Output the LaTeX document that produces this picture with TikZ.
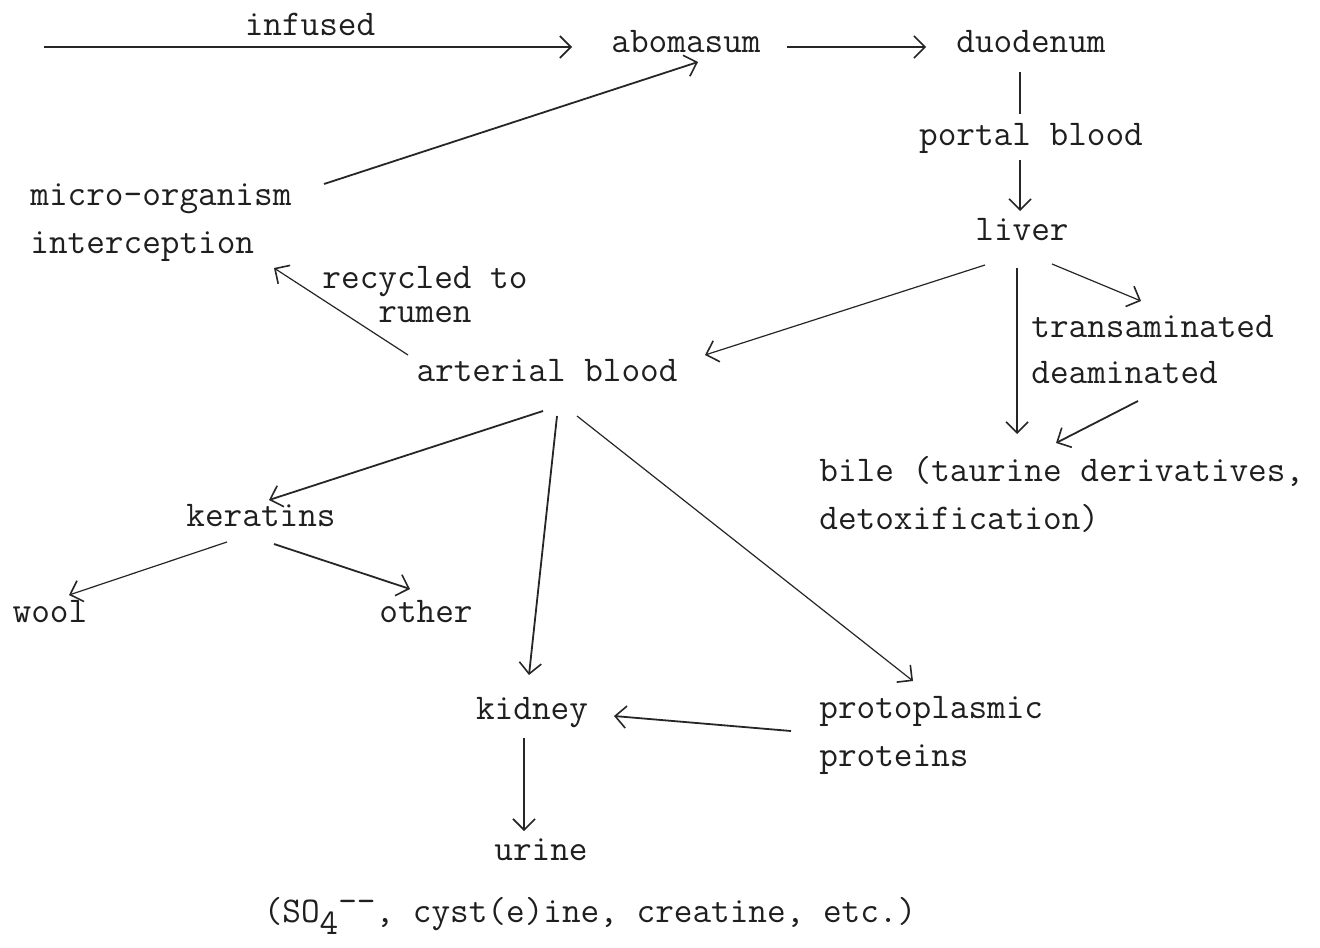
\documentclass[tikz,border=0pt]{standalone}
\usepackage{fontspec}
\usetikzlibrary{arrows.meta,calc}
\newcommand\tyfont{\ttfamily\fontsize{18.1}{24}\selectfont}
\begin{document}
\begin{tikzpicture}[x=0.5pt,y=-0.5pt,
  lbl/.style={inner sep=0pt, font=\tyfont, text=black!88},
  one/.style={lbl, text height=11pt, text depth=3pt},
  link/.style={draw=black!85, line width=0.9pt},
  arr/.style={link, -{Straight Barb[length=5.5pt,width=11pt,line width=0.8pt]}},
  thinarr/.style={arr, line width=0.6pt}]
\useasboundingbox[fill=white] (0,0) rectangle (1320,947);

% labels
\node[one] (infused) at (310,28) {infused};
\node[one] (abomasum) at (686,45) {abomasum};
\node[one] (duodenum) at (1031,45) {duodenum};
\node[one] (portal) at (1031,137) {portal blood};
\node[one] (liver) at (1022,232) {liver};
\node[lbl, align=left, anchor=west] (micro) at (30,223) {micro-organism\\interception};
\node[lbl, align=center, font={\ttfamily\fontsize{18.1}{17}\selectfont}] (recycled) at (425,295) {recycled to\\rumen};
\node[one] (arterial) at (547,373) {arterial blood};
\node[lbl, align=left, anchor=west, font={\ttfamily\fontsize{18.1}{23}\selectfont}] (trans) at (1031,350) {transaminated\\deaminated};
\node[lbl, align=left, anchor=west] (bile) at (819,494) {bile (taurine derivatives,\\detoxification)};
\node[one] (keratins) at (261,518) {keratins};
\node[one] (wool) at (50,614) {wool};
\node[one] (other) at (426,614) {other};
\node[one] (kidney) at (532,711) {kidney};
\node[lbl, align=left, anchor=west] (proto) at (819,735) {protoplasmic\\proteins};
\node[one] (urine) at (541,852) {urine};
\node[one] (products) at (590,914)
  {(SO\raisebox{-6pt}{4}\raisebox{5pt}{-{}-}, cyst(e)ine, creatine, etc.)};

% flows
\coordinate (src) at (44,47);
\draw[arr] (src) -- ($(abomasum)+(-114,2)$);
\draw[arr] ($(abomasum)+(101,2)$) -- ($(duodenum)+(-105,2)$);
\draw[arr] ($(micro.west)+(294,-39)$) -- ($(abomasum)+(12,17)$);
\draw[link] ($(duodenum)+(-11,27)$) -- ($(portal)+(-11,-23)$);
\draw[arr] ($(portal)+(-11,23)$) -- ($(liver)+(-2,-21)$);
\draw[thinarr] ($(liver)+(-37,33)$) -- ($(arterial)+(158,-18)$);
\draw[arr] ($(liver)+(-5,36)$) -- ($(bile.west)+(198,-60)$);
\draw[thinarr] ($(liver)+(30,32)$) -- ($(trans.west)+(110,-49)$);
\draw[arr] ($(trans.west)+(107,51)$) -- ($(bile.west)+(237,-51)$);
\draw[thinarr] ($(arterial)+(-139,-18)$) -- ($(micro.west)+(244,45)$);
\draw[arr] ($(arterial)+(-4,38)$) -- ($(keratins)+(8,-18)$);
\draw[arr] ($(arterial)+(10,43)$) -- ($(kidney)+(-3,-36)$);
\draw[thinarr] ($(arterial)+(30,43)$) -- ($(proto.west)+(94,-54)$);
\draw[thinarr] ($(keratins)+(-34,24)$) -- ($(wool)+(19,-19)$);
\draw[arr] ($(keratins)+(13,26)$) -- ($(other)+(-16,-25)$);
\draw[arr] ($(proto.west)+(-28,-4)$) -- ($(kidney)+(82,5)$);
\draw[thinarr] ($(kidney)+(-8,27)$) -- ($(urine)+(-17,-21)$);
\end{tikzpicture}
\end{document}
